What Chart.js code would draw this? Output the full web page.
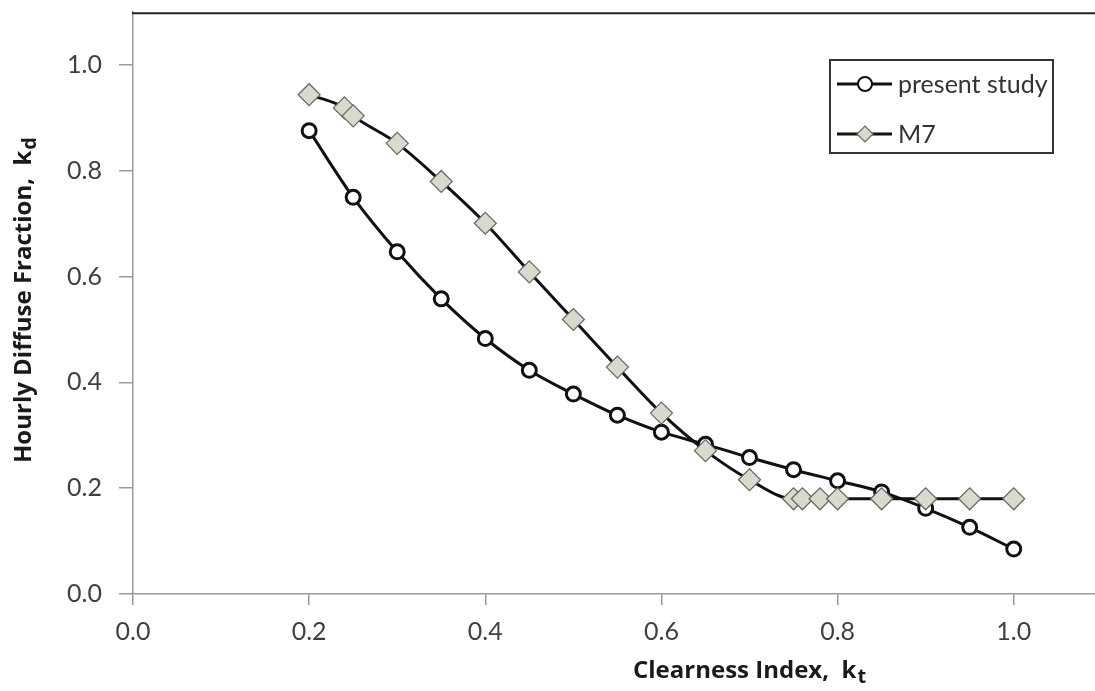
<!DOCTYPE html>
<html>
<head>
<meta charset="utf-8">
<script src="https://cdn.jsdelivr.net/npm/chart.js@4"></script>
<style>
  html, body { margin: 0; padding: 0; background: #fff; overflow: hidden; }
  #wrap { width: 1114px; height: 691px; }
</style>
</head>
<body>
<div id="wrap"><canvas id="kd-chart" width="1114" height="691"></canvas></div>
<script>
// clearness index kt vs. hourly diffuse fraction kd
const studyKt = [0.2, 0.25, 0.3, 0.35, 0.4, 0.45, 0.5, 0.55, 0.6, 0.65, 0.7, 0.75, 0.8, 0.85, 0.9, 0.95, 1.0];
const studyKd = [0.876, 0.750, 0.647, 0.558, 0.483, 0.423, 0.378, 0.338, 0.306, 0.283, 0.258, 0.235, 0.214, 0.193, 0.162, 0.126, 0.085];

const m7Kt = [0.2, 0.24, 0.25, 0.3, 0.35, 0.4, 0.45, 0.5, 0.55, 0.6, 0.65, 0.7, 0.75, 0.76, 0.78, 0.8, 0.85, 0.9, 0.95, 1.0];
const m7Kd = [0.944, 0.919, 0.904, 0.852, 0.780, 0.701, 0.609, 0.519, 0.429, 0.342, 0.271, 0.216, 0.180, 0.180, 0.180, 0.180, 0.180, 0.180, 0.180, 0.180];

const xTicks = [0, 0.2, 0.4, 0.6, 0.8, 1.0];
const yTicks = [0, 0.2, 0.4, 0.6, 0.8, 1.0];

const FONT = 'Lato, "Open Sans", sans-serif';
const TITLE_FONT = '"Open Sans", Lato, sans-serif';
const toXY = (xs, ys) => xs.map((x, i) => ({ x, y: ys[i] }));

// title text followed by a lowered subscript
function drawSubTitle(ctx, main, sub, x, y) {
  ctx.font = 'bold 24px ' + TITLE_FONT;
  ctx.fillText(main, x, y);
  const w = ctx.measureText(main).width;
  ctx.font = 'bold 20px ' + TITLE_FONT;
  ctx.fillText(sub, x + w + 1, y + 5);
}

// axis titles, legend box, top frame line
const decorations = {
  id: 'decorations',
  afterDraw(chart) {
    const { ctx, chartArea } = chart;
    ctx.save();

    ctx.strokeStyle = '#222';
    ctx.lineWidth = 2;
    ctx.beginPath();
    ctx.moveTo(chartArea.left - 1, chartArea.top + 1);
    ctx.lineTo(chartArea.right, chartArea.top + 1);
    ctx.stroke();

    ctx.fillStyle = '#1a1a1a';
    ctx.textBaseline = 'alphabetic';
    drawSubTitle(ctx, 'Clearness Index,  k', 't', 633, 678);

    ctx.save();
    ctx.translate(31, 463);
    ctx.rotate(-Math.PI / 2);
    drawSubTitle(ctx, 'Hourly Diffuse Fraction,  k', 'd', 0, 0);
    ctx.restore();

    // legend
    ctx.strokeStyle = '#333';
    ctx.lineWidth = 2;
    ctx.strokeRect(830, 60, 223, 93);
    const rows = [
      { label: 'present study', y: 84, style: 'circle' },
      { label: 'M7', y: 134, style: 'rectRot' }
    ];
    rows.forEach(r => {
      ctx.strokeStyle = '#111';
      ctx.lineWidth = 3;
      ctx.beginPath();
      ctx.moveTo(837, r.y);
      ctx.lineTo(892, r.y);
      ctx.stroke();
      if (r.style === 'circle') {
        ctx.fillStyle = '#fff';
        ctx.lineWidth = 2;
        ctx.beginPath();
        ctx.arc(865, r.y, 7, 0, Math.PI * 2);
        ctx.fill();
        ctx.stroke();
      } else {
        ctx.fillStyle = '#d9d9cc';
        ctx.strokeStyle = '#666';
        ctx.lineWidth = 1.2;
        ctx.beginPath();
        ctx.moveTo(865 - 8, r.y);
        ctx.lineTo(865, r.y - 8);
        ctx.lineTo(865 + 8, r.y);
        ctx.lineTo(865, r.y + 8);
        ctx.closePath();
        ctx.fill();
        ctx.stroke();
      }
      ctx.fillStyle = '#333';
      ctx.font = '25px ' + FONT;
      ctx.textBaseline = 'middle';
      ctx.fillText(r.label, 898, r.y + 1);
    });

    ctx.restore();
  }
};

new Chart(document.getElementById('kd-chart'), {
  type: 'line',
  data: {
    datasets: [
      {
        label: 'M7',
        data: toXY(m7Kt, m7Kd),
        borderColor: '#111',
        borderWidth: 3,
        cubicInterpolationMode: 'monotone',
        pointStyle: 'rectRot',
        pointRadius: 11,
        pointBackgroundColor: '#d9d9cc',
        pointBorderColor: '#666',
        pointBorderWidth: 1.2
      },
      {
        label: 'present study',
        data: toXY(studyKt, studyKd),
        borderColor: '#111',
        borderWidth: 3,
        cubicInterpolationMode: 'monotone',
        pointStyle: 'circle',
        pointRadius: 7,
        pointBackgroundColor: '#fff',
        pointBorderColor: '#111',
        pointBorderWidth: 3
      }
    ]
  },
  options: {
    responsive: false,
    animation: false,
    events: [],
    layout: { padding: { top: 5.8, right: 2.8, left: 0, bottom: 0 } },
    plugins: {
      legend: { display: false },
      tooltip: { enabled: false }
    },
    scales: {
      x: {
        type: 'linear',
        min: 0,
        max: 1.1,
        afterBuildTicks: axis => { axis.ticks = xTicks.map(v => ({ value: v })); },
        afterFit: axis => {
          axis.height = 97;
          axis.paddingLeft = 0;
          axis.paddingRight = 0;
        },
        border: { color: '#9a9a9a', width: 1.5 },
        grid: { drawOnChartArea: false, drawTicks: true, tickLength: 11, color: '#9a9a9a', lineWidth: 1.5 },
        ticks: {
          padding: 12,
          color: '#404040',
          font: { family: FONT, size: 25 },
          maxRotation: 0,
          callback: v => v.toFixed(1)
        }
      },
      y: {
        type: 'linear',
        min: 0,
        max: 1.1,
        afterBuildTicks: axis => { axis.ticks = yTicks.map(v => ({ value: v })); },
        afterFit: axis => {
          axis.width = 133;
          axis.paddingTop = 0;
          axis.paddingBottom = 0;
        },
        border: { color: '#9a9a9a', width: 1.5 },
        grid: { drawOnChartArea: false, drawTicks: true, tickLength: 14, color: '#9a9a9a', lineWidth: 1.5 },
        ticks: {
          padding: 17,
          color: '#404040',
          font: { family: FONT, size: 25 },
          callback: v => v.toFixed(1)
        }
      }
    }
  },
  plugins: [decorations]
});
</script>
</body>
</html>
